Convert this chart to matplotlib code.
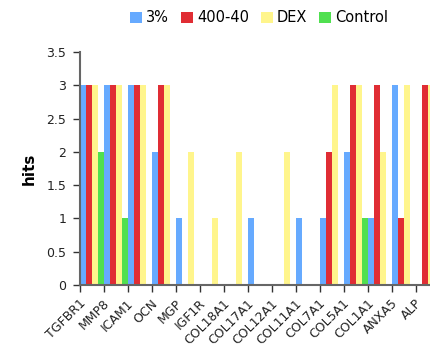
import matplotlib
matplotlib.use("Agg")
import matplotlib.pyplot as plt
import matplotlib.transforms as mtransforms
import numpy as np

categories = ["TGFBR1", "MMP8", "ICAM1", "OCN", "MGP", "IGF1R", "COL18A1", "COL17A1",
              "COL12A1", "COL11A1", "COL7A1", "COL5A1", "COL1A1", "ANXA5", "ALP"]
s_3pct   = [3, 3, 3, 2, 1, 0, 0, 1, 0, 1, 1, 2, 1, 3, 0]
s_40040  = [3, 3, 3, 3, 0, 0, 0, 0, 0, 0, 2, 3, 3, 1, 3]
s_dex    = [3, 3, 3, 3, 2, 1, 2, 0, 2, 0, 3, 3, 2, 3, 3]
s_ctrl   = [2, 1, 0, 0, 0, 0, 0, 0, 0, 0, 0, 1, 0, 0, 0]
series_names = ["3%", "400-40", "DEX", "Control"]
colors = ["#66AAFF", "#E02D34", "#FFF58C", "#50E050"]
yticks = [0, 0.5, 1, 1.5, 2, 2.5, 3, 3.5]
ytick_labels = ["0", "0.5", "1", "1.5", "2", "2.5", "3", "3.5"]

fig = plt.figure(figsize=(4.31, 3.48), dpi=100)
ax = fig.add_axes([80/431, 63/348, 360/431, 233/348])

x = np.arange(len(categories))
w = 0.25
all_series = [s_3pct, s_40040, s_dex, s_ctrl]
for i, (vals, name, c) in enumerate(zip(all_series, series_names, colors)):
    ax.bar(x + (i - 1.5) * w, vals, width=w, color=c, label=name, linewidth=0)

ax.set_xlim(-0.5, len(categories) - 0.5)
ax.set_ylim(0, 3.5)
ax.set_yticks(yticks)
ax.set_yticklabels(ytick_labels, fontsize=9, color="#222222")
ax.set_xticks(np.arange(len(categories) + 1) - 0.5)
ax.set_xticklabels([])

base = mtransforms.blended_transform_factory(ax.transData, ax.transAxes)
offset = mtransforms.ScaledTranslation(-13/100, -12/100, fig.dpi_scale_trans)
for xi, cat in zip(x, categories):
    ax.text(xi, 0, cat, transform=base + offset, rotation=45, ha="right", va="top",
            rotation_mode="anchor", fontsize=9, color="#222222", clip_on=False)

ax.tick_params(axis="x", which="major", length=5, width=1, color="#333333")
ax.tick_params(axis="y", length=5, width=1, color="#333333", pad=5)
for s in ["top", "right"]:
    ax.spines[s].set_visible(False)
for s in ["left", "bottom"]:
    ax.spines[s].set_color("#666666")
    ax.spines[s].set_linewidth(1.5)
ax.set_ylabel("hits", fontsize=11, fontweight="bold", labelpad=7)

fig.legend(loc="center", bbox_to_anchor=(0.601, 1 - 18/348), ncol=4, frameon=False,
           fontsize=10.5, handlelength=0.82, handleheight=0.82, handletextpad=0.3,
           columnspacing=0.8, borderaxespad=0)

fig.savefig("out.png", dpi=100)
